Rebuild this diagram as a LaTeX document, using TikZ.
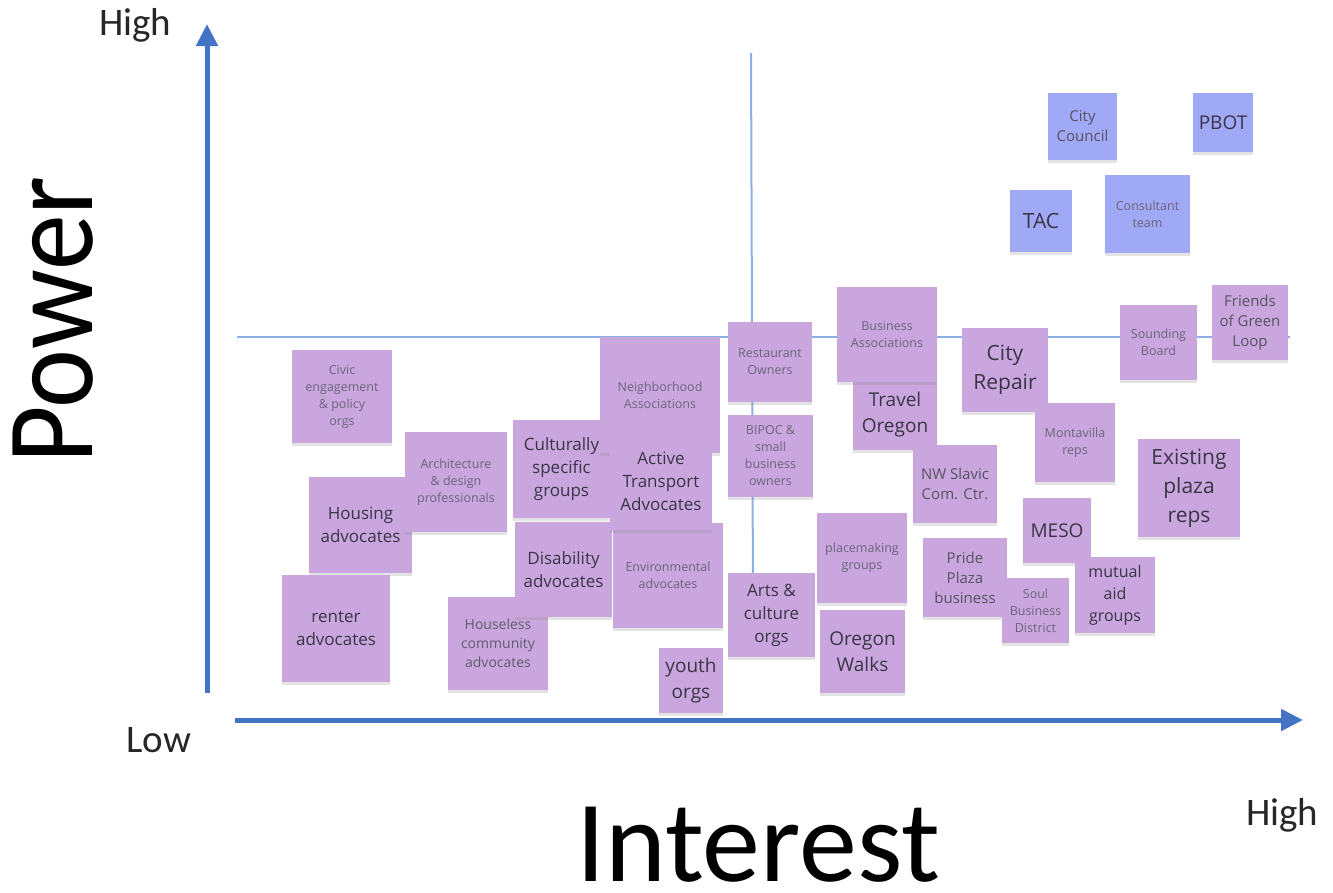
\documentclass[tikz,border=0pt]{standalone}
\usepackage{fontspec}
\setmainfont{Carlito}
\newfontfamily\notefont{Open Sans}
\usetikzlibrary{arrows.meta,shadows}

% 色の定義
\definecolor{axisblue}{RGB}{68,114,196}
\definecolor{gridblue}{RGB}{140,175,228}
\definecolor{notepurple}{RGB}{201,167,222}
\definecolor{noteblue}{RGB}{160,169,245}
\definecolor{inkdark}{RGB}{58,52,70}
\definecolor{inklight}{RGB}{108,100,124}

\tikzset{
  note/.style={fill=notepurple, inner sep=2pt, align=center,
    drop shadow={shadow xshift=0pt, shadow yshift=-3pt, opacity=0.22}},
  bluenote/.style={note, fill=noteblue},
  sz/.style 2 args={minimum width=#1pt, minimum height=#2pt},
  ts/.style={font=\notefont\fontsize{12.5}{17}\selectfont, text=inklight},
  tm/.style={font=\notefont\fontsize{15}{20}\selectfont, text=inkdark!85!white},
  tb/.style={font=\notefont\fontsize{17}{23}\selectfont, text=inkdark},
  tl/.style={font=\notefont\fontsize{19}{26}\selectfont, text=inkdark},
  tx/.style={font=\notefont\fontsize{21}{29}\selectfont, text=inkdark},
  axislabel/.style={font=\fontsize{39}{44}\selectfont, text=black!85},
}

\begin{document}
\begin{tikzpicture}[x=1pt, y=-1pt]

    \useasboundingbox (0,0) rectangle (1333,892);

    % 点の定義
    \coordinate (yfoot) at (207,693);
    \coordinate (ytop) at (207,24);
    \coordinate (xfoot) at (235,720);
    \coordinate (xtip) at (1303,720);
    \coordinate (vtop) at (751,53);
    \coordinate (vbot) at (753,600);
    \coordinate (hleft) at (237,337);
    \coordinate (hright) at (1290,337);

    % 軸の描画
    \draw [axisblue, line width=5pt, -{Triangle[length=22pt,width=21pt]}] (yfoot) -- (ytop);
    \draw [axisblue, line width=5pt, -{Triangle[length=22pt,width=21pt]}] (xfoot) -- (xtip);
    \draw [gridblue, line width=2pt] (vtop) -- (vbot);
    \draw [gridblue, line width=2pt] (hleft) -- (hright);

    % 軸ラベル
    \node [axislabel, anchor=base west, inner sep=0pt] (highpower) at (99,35) {High};
    \node [axislabel, anchor=base west, inner sep=0pt] (low) at (126,752) {Low};
    \node [axislabel, anchor=base west, inner sep=0pt] (highinterest) at (1246,825) {High};
    \node [font=\fontsize{116}{130}\selectfont, anchor=base, inner sep=0pt] (interest) at (758,881) {Interest};
    \node [font=\fontsize{124}{140}\selectfont, anchor=base, rotate=90, inner sep=0pt] (power) at (92,320) {\scalebox{0.9}[1]{Power}};

    % 付箋（左側）
    \node [note, sz={100}{93}, ts] (civic) at (342,396.5) {Civic\\engagement\\\& policy\\orgs};
    \node [note, sz={103}{96}, tb] (housing) at (360.5,525) {Housing\\advocates};
    \node [note, sz={102}{100}, ts] (architecture) at (456,482) {Architecture\\\& design\\professionals};
    \node [note, sz={108}{107}, tb] (renter) at (336,628.5) {renter\\advocates};
    \node [note, sz={100}{93}, font=\notefont\fontsize{14}{19}\selectfont, text=inkdark!80!white] (houseless) at (498,643.5) {Houseless\\community\\advocates};
    \node [note, sz={97}{95}, tb] (disability) at (563.5,569.5) {Disability\\advocates};
    \node [note, sz={97}{98}, tb] (cultural) at (561.5,469) {Culturally\\specific\\groups};
    \node [note, sz={120}{116}, ts] (neighborhood) at (660,395) {Neighborhood\\Associations};
    \node [note, sz={110}{105}, ts] (environmental) at (668,575.5) {Environmental\\advocates};
    \node [note, sz={102}{97}, tb] (active) at (661,481.5) {Active\\Transport\\Advocates};
    \node [note, sz={64}{65}, tl] (youth) at (691,680.5) {youth\\orgs};

    % 付箋（中央）
    \node [note, sz={84}{80}, ts] (restaurant) at (770,362) {Restaurant\\Owners};
    \node [note, sz={85}{82}, ts] (bipoc) at (770.5,456) {BIPOC \&\\small\\business\\owners};
    \node [note, sz={87}{84}, tb] (arts) at (771.5,615) {Arts \&\\culture\\orgs};
    \node [note, sz={90}{90}, ts] (placemaking) at (862,558) {placemaking\\groups};
    \node [note, sz={85}{83}, tl] (oregonwalks) at (862.5,651.5) {Oregon\\Walks};
    \node [note, sz={84}{70}, tl] (travel) at (895,415) {Travel\\Oregon};
    \node [note, sz={100}{95}, ts] (business) at (887,334.5) {Business\\Associations};
    \node [note, sz={84}{78}, tm] (nwslavic) at (955,484) {NW Slavic\\Com. Ctr.};
    \node [note, sz={84}{79}, tm] (pride) at (965,577.5) {Pride\\Plaza\\business};
    \node [note, sz={67}{65}, ts] (soul) at (1035.5,610.5) {Soul\\Business\\District};

    % 付箋（右側）
    \node [note, sz={86}{84}, tx] (cityrepair) at (1005,370) {City\\Repair};
    \node [note, sz={80}{79}, ts] (montavilla) at (1075,442.5) {Montavilla\\reps};
    \node [note, sz={77}{75}, ts] (sounding) at (1158.5,342.5) {Sounding\\Board};
    \node [note, sz={76}{75}, tm] (friends) at (1250,322.5) {Friends\\of Green\\Loop};
    \node [note, sz={102}{98}, tx] (existing) at (1189,488) {Existing\\plaza\\reps};
    \node [note, sz={68}{65}, tl] (meso) at (1057,530.5) {MESO};
    \node [note, sz={80}{76}, font=\notefont\fontsize{16}{22}\selectfont, text=inkdark] (mutual) at (1115,595) {mutual\\aid\\groups};

    % 付箋（青）
    \node [bluenote, sz={69}{67}, tm] (citycouncil) at (1082.5,126.5) {City\\Council};
    \node [bluenote, sz={60}{59}, tl] (pbot) at (1223,122.5) {PBOT};
    \node [bluenote, sz={62}{62}, tx] (tac) at (1041,221) {TAC};
    \node [bluenote, sz={85}{78}, ts] (consultant) at (1147.5,214) {Consultant\\team};

\end{tikzpicture}
\end{document}
